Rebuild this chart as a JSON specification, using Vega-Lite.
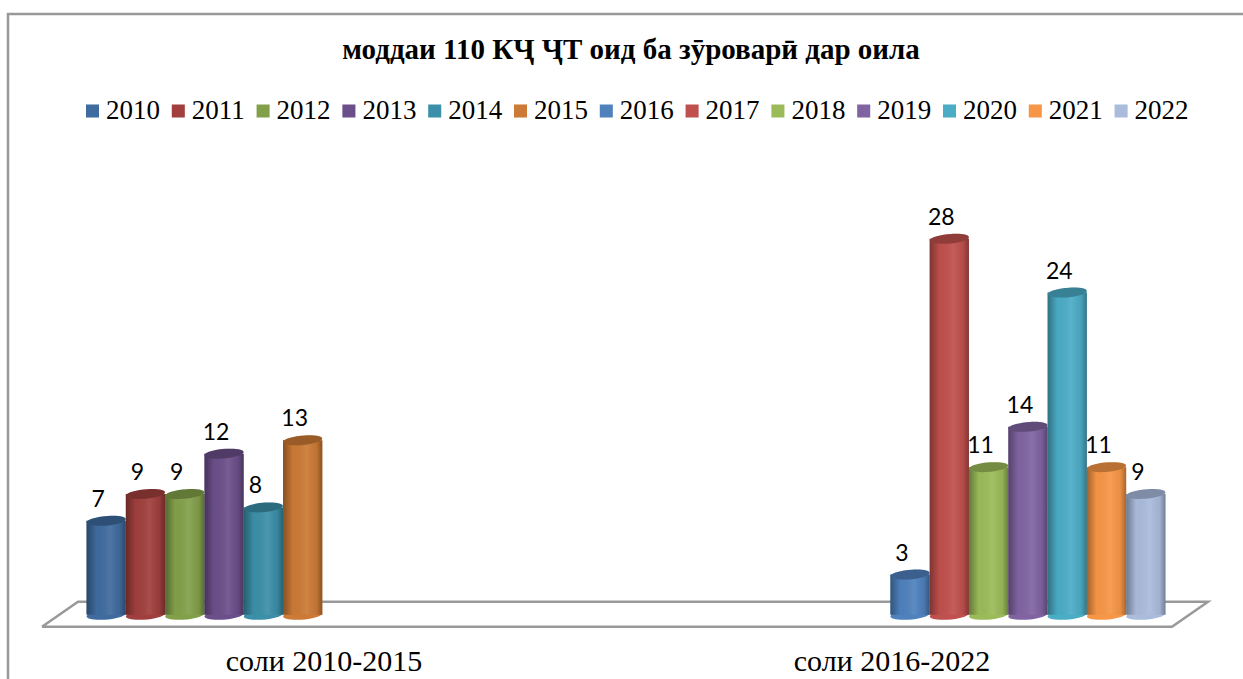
{
"$schema":"https://vega.github.io/schema/vega-lite/v6.json",
"width":1136,"height":423,
"autosize":"none",
"padding":{"left":58,"top":212,"right":49,"bottom":44},
"background":"white",
"title":{"text":"моддаи 110 КҶ ҶТ оид ба зӯроварӣ дар оила","font":"Liberation Serif","fontSize":29,"fontWeight":"bold","color":"#000000","anchor":"middle","dx":5,"dy":79,"baseline":"alphabetic","offset":0},
"config":{"view":{"stroke":null}},
"datasets":{
"bars":[
{"period":"соли 2010-2015","year":"2010","value":7},
{"period":"соли 2010-2015","year":"2011","value":9},
{"period":"соли 2010-2015","year":"2012","value":9},
{"period":"соли 2010-2015","year":"2013","value":12},
{"period":"соли 2010-2015","year":"2014","value":8},
{"period":"соли 2010-2015","year":"2015","value":13},
{"period":"соли 2016-2022","year":"2016","value":3},
{"period":"соли 2016-2022","year":"2017","value":28},
{"period":"соли 2016-2022","year":"2018","value":11},
{"period":"соли 2016-2022","year":"2019","value":14},
{"period":"соли 2016-2022","year":"2020","value":24},
{"period":"соли 2016-2022","year":"2021","value":11},
{"period":"соли 2016-2022","year":"2022","value":9}
],
"floor":[
{"part":"floor","n":1,"px":-16,"py":-0.89},
{"part":"floor","n":2,"px":1114,"py":-0.89},
{"part":"floor","n":3,"px":1150,"py":0.97},
{"part":"floor","n":4,"px":20,"py":0.97},
{"part":"floor","n":5,"px":-16,"py":-0.89},
{"part":"frame","n":1,"px":-50,"py":-5},
{"part":"frame","n":2,"px":-50,"py":44.74},
{"part":"frame","n":3,"px":1185,"py":44.74}
]
},
"layer":[
{"data":{"name":"floor"},
 "mark":{"type":"line","color":"#999999","strokeWidth":2.5,"clip":false},
 "encoding":{
  "x":{"field":"px","type":"quantitative","scale":{"domain":[0,1136],"nice":false,"zero":false},"axis":null},
  "y":{"field":"py","type":"quantitative","scale":{"domain":[-1.5,30],"nice":false},"axis":null},
  "detail":{"field":"part"},
  "order":{"field":"n"}}},
{"data":{"name":"bars"},
 "encoding":{
  "x":{"field":"period","type":"nominal","scale":{"paddingInner":0,"paddingOuter":0},
    "axis":{"title":null,"domain":false,"ticks":false,"labelAngle":0,"labelFont":"Liberation Serif","labelFontSize":30,"labelColor":"#000000","labelOffset":-18,"labelPadding":26,"labelBaseline":"middle","labelLimit":400}},
  "xOffset":{"field":"year","type":"nominal","scale":{"domain":["2010","2011","2012","2013","2014","2015","2016","2017","2018","2019","2020","2021","2022"],"paddingInner":0,"paddingOuter":0.725}},
  "y":{"field":"value","type":"quantitative","scale":{"domain":[-1.5,30],"nice":false},"axis":null},
  "color":{"field":"year","type":"nominal","scale":{"domain":["2010","2011","2012","2013","2014","2015","2016","2017","2018","2019","2020","2021","2022"],
     "range":["#3f6b9e","#a03f3d","#82a04a","#6b4f8a","#3b8fa8","#cc7a35","#4f81bd","#c0504d","#9bbb59","#8064a2","#4bacc6","#f79646","#aabbdc"]},
    "legend":{"title":null,"orient":"none","legendX":21,"legendY":-116,"direction":"horizontal","columns":13,"symbolType":"square","symbolSize":170,"symbolStrokeWidth":0,"symbolOpacity":1,"labelFont":"Liberation Serif","labelFontSize":27,"labelColor":"#000000","columnPadding":4.8,"labelOffset":0,"clipHeight":30}}
 },
 "layer":[
  {"mark":{"type":"point","filled":true,"opacity":1,"size":1521,"shape":"M-1,0.06 A1,0.24 -5 1 0 1,-0.06 A1,0.24 -5 1 0 -1,0.06 Z"},"encoding":{"y":{"datum":0,"type":"quantitative"}}},
  {"mark":{"type":"bar"},"encoding":{"y":{"datum":0,"type":"quantitative"},"y2":{"field":"value"}}},
  {"mark":{"type":"bar","fill":{"x1":0,"y1":0,"x2":1,"y2":0,"gradient":"linear","stops":[{"offset":0,"color":"rgba(0,0,0,0.35)"},{"offset":0.25,"color":"rgba(0,0,0,0.02)"},{"offset":0.6,"color":"rgba(255,255,255,0.08)"},{"offset":0.85,"color":"rgba(0,0,0,0.06)"},{"offset":1,"color":"rgba(0,0,0,0.32)"}]}},"encoding":{"color":{"value":null},"y":{"datum":0,"type":"quantitative"},"y2":{"field":"value"}}},
  {"mark":{"type":"point","filled":true,"opacity":1,"size":1521,"shape":"M-1,0.06 A1,0.24 -5 1 0 1,-0.06 A1,0.24 -5 1 0 -1,0.06 Z"},"encoding":{"y":{"field":"value","type":"quantitative"}}},
  {"mark":{"type":"point","filled":true,"opacity":0.25,"size":1521,"shape":"M-1,0.06 A1,0.24 -5 1 0 1,-0.06 A1,0.24 -5 1 0 -1,0.06 Z","fill":"#000000"},"encoding":{"color":{"value":"#000000"},"y":{"field":"value","type":"quantitative"}}},
  {"mark":{"type":"text","font":"Lato","fontSize":23,"color":"#000000","dx":-8,"dy":-21,"baseline":"middle"},"encoding":{"color":{"value":"#000000"},"text":{"field":"value","type":"quantitative"},"y":{"field":"value","type":"quantitative"}}}
 ]}
],
"resolve":{"scale":{"x":"independent"}}
}
